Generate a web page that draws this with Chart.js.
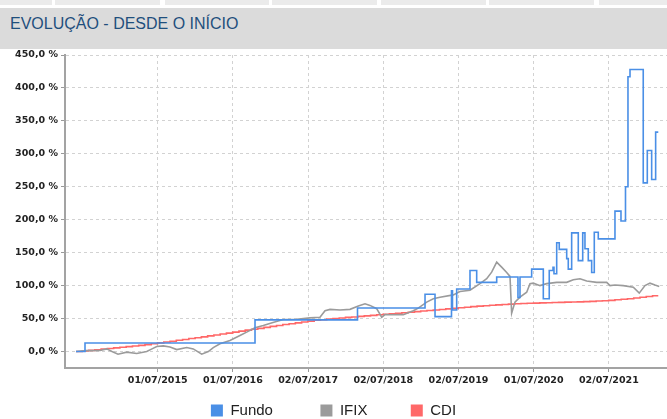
<!DOCTYPE html>
<html>
<head>
<meta charset="utf-8">
<script src="https://cdn.jsdelivr.net/npm/chart.js@4.4.0/dist/chart.umd.min.js"></script>
<style>
    html, body { margin: 0; padding: 0; width: 667px; height: 419px; overflow: hidden; background: #fff; }
    .tab { position: absolute; top: 0; height: 5px; background: #ebebeb; }
    #header { position: absolute; left: 0; top: 8px; width: 667px; height: 41px; background: #dbdbdb; }
    #title { position: absolute; left: 10px; top: 6px; line-height: 20px; font-size: 16px;
             font-family: "Liberation Sans", Arial, sans-serif; color: #1f4f7d; white-space: nowrap; }
    #chart_area { position: absolute; left: 0; top: 0; width: 667px; height: 428px; }
</style>
</head>
<body>
<div class="tab" style="left:0;width:52px"></div>
<div class="tab" style="left:55px;width:105px"></div>
<div class="tab" style="left:165px;width:104px"></div>
<div class="tab" style="left:272px;width:105px"></div>
<div class="tab" style="left:381px;width:105px"></div>
<div class="tab" style="left:489px;width:105px"></div>
<div class="tab" style="left:599px;width:68px"></div>
<div id="header"><div id="title">EVOLUÇÃO - DESDE O INÍCIO</div></div>
<div id="chart_area"><canvas id="evolucao" width="667" height="428"></canvas></div>

<script>
// Time is kept as decimal years (2015.5 = 01/07/2015)
var seriesNames = ["Fundo", "IFIX", "CDI"];
var seriesColors = ["#4a8fe6", "#9b9b9b", "#ff6868"];

// X axis tick dates and their labels
var tickYears = [2015.5, 2016.5, 2017.5, 2018.5, 2019.5, 2020.5, 2021.5];
var tickLabels = ["01/07/2015", "01/07/2016", "02/07/2017", "02/07/2018", "02/07/2019", "01/07/2020", "02/07/2021"];
var yTicks = [0, 50, 100, 150, 200, 250, 300, 350, 400, 450];

// Fundo: stepped series (each value holds until the next date)
var fundoT = [2014.414, 2014.533, 2016.794, 2018.157, 2019.055, 2019.188, 2019.407, 2019.420,
    2019.476, 2019.653, 2019.742, 2020.008, 2020.291, 2020.318, 2020.473, 2020.628, 2020.707,
    2020.757, 2020.770, 2020.806, 2020.840, 2020.939, 2020.960, 2021.005, 2021.093, 2021.152,
    2021.182, 2021.226, 2021.271, 2021.306, 2021.359, 2021.581, 2021.661, 2021.721, 2021.754,
    2021.781, 2021.957, 2022.011, 2022.069, 2022.122, 2022.157];
var fundoValues = [0, 13, 48, 66, 87, 53, 92, 63,
    95, 123, 105, 113, 82, 113, 125, 80, 123,
    128, 118, 165, 155, 141, 125, 180, 138, 180,
    156, 138, 120, 181, 171, 213, 198, 250, 417,
    428, 256, 305, 261, 333, 333];

// IFIX
var ifixT = [2014.414, 2014.547, 2014.733, 2014.822, 2014.892, 2014.972, 2015.088, 2015.221,
    2015.354, 2015.424, 2015.487, 2015.574, 2015.664, 2015.753, 2015.886, 2015.973, 2016.085,
    2016.173, 2016.239, 2016.328, 2016.461, 2016.594, 2016.683, 2016.794, 2016.904, 2017.033,
    2017.170, 2017.348, 2017.525, 2017.658, 2017.725, 2017.791, 2017.924, 2018.057, 2018.168,
    2018.257, 2018.323, 2018.412, 2018.479, 2018.523, 2018.589, 2018.766, 2018.899, 2018.965,
    2019.077, 2019.165, 2019.254, 2019.431, 2019.520, 2019.653, 2019.786, 2019.875, 2019.941,
    2020.008, 2020.074, 2020.141, 2020.185, 2020.207, 2020.251, 2020.318, 2020.407, 2020.451,
    2020.495, 2020.584, 2020.673, 2020.806, 2020.939, 2021.027, 2021.116, 2021.205, 2021.338,
    2021.471, 2021.515, 2021.581, 2021.692, 2021.825, 2021.904, 2021.980, 2022.047, 2022.113,
    2022.170];
var ifixValues = [0, 1.4, 1.5, 4, 0, -4, -1, -3,
    0, 4, 7.6, 8.6, 7, 3, 6, 4, -4,
    0, 6, 11.7, 16.7, 24.3, 29.4, 36, 39.5, 44,
    48.6, 49, 51, 52, 62, 64, 63, 64, 69,
    72.5, 70, 65, 52, 56, 55.8, 56, 62, 65.8,
    75, 80, 82.5, 86, 91, 93, 103, 110.5, 120.5,
    135.7, 128, 120, 114, 58, 75, 82.5, 90, 103,
    103.8, 100, 103, 105, 105, 109, 110.5, 107, 105,
    105, 100, 101, 100, 97.7, 88.6, 100, 103.8, 101,
    98.8];

// CDI: monthly accumulated values from jun/2014
var cdiStart = 2014.414;
var cdiValues = [0, 0.9, 1.8, 2.7, 3.7, 4.6, 5.6,
    6.5, 7.4, 8.4, 9.4, 10.5, 11.7, 13.1, 14.4, 15.7, 17.1, 18.3, 19.7,
    21.0, 22.3, 23.8, 25.1, 26.5, 28.0, 29.4, 31.0, 32.5, 33.9, 35.2, 36.7,
    38.2, 39.4, 41.0, 42.1, 43.5, 44.9, 46.1, 47.4, 48.3, 49.3, 50.1, 50.9,
    51.8, 52.5, 53.3, 54.1, 54.9, 55.7, 56.5, 57.4, 58.1, 58.9, 59.7, 60.5,
    61.4, 62.2, 63.0, 63.8, 64.7, 65.5, 66.4, 67.3, 68.1, 68.9, 69.5, 70.2,
    70.8, 71.4, 72.0, 72.5, 72.9, 73.2, 73.5, 73.8, 74.0, 74.3, 74.6, 74.9,
    75.1, 75.4, 75.7, 76.1, 76.6, 77.1, 77.7, 78.5, 79.3, 80.2, 81.2, 82.4,
    83.6, 84.6];
var cdiEnd = 2022.157;

var xMin = 2014.267;
var xMax = 2022.273;

/**
 * Joins a list of dates and a list of values into {x, y} points.
 */
function to_points(dates, values) {
    return dates.map(function (t, i) {
        return { x: t, y: values[i] };
    });
}

function cdi_points() {
    let points = cdiValues.map(function (v, i) {
        return { x: cdiStart + i / 12, y: v };
    });
    points.push({ x: cdiEnd, y: cdiValues[cdiValues.length - 1] });
    return points;
}

// Extra spaces after the legend texts to spread the items like the original
var legendGap = ["         ", "        ", ""];

var tickFont = { family: "DejaVu Sans", size: 9.5, weight: "bold" };

function make_dataset(i, points, stepped) {
    return {
        label: seriesNames[i],
        data: points,
        borderColor: seriesColors[i],
        backgroundColor: seriesColors[i],
        borderWidth: 1.6,
        pointRadius: 0,
        stepped: stepped,
        tension: 0,
        fill: false
    };
}

new Chart("evolucao", {
    type: "line",
    data: {
        datasets: [
            make_dataset(0, to_points(fundoT, fundoValues), true),
            make_dataset(1, to_points(ifixT, ifixValues), false),
            make_dataset(2, cdi_points(), true)
        ]
    },
    options: {
        responsive: false,
        animation: false,
        layout: { padding: { top: 55, left: 0, right: 0, bottom: 0 } },
        plugins: {
            tooltip: { enabled: false },
            legend: {
                position: "bottom",
                labels: {
                    boxWidth: 12,
                    boxHeight: 12,
                    padding: 10,
                    color: "#222",
                    font: { family: "Liberation Sans", size: 15 },
                    generateLabels: function (chart) {
                        let items = Chart.defaults.plugins.legend.labels.generateLabels(chart);
                        return items.map(function (item, i) {
                            item.text = item.text + legendGap[i];
                            item.lineWidth = 0;
                            return item;
                        });
                    }
                }
            }
        },
        scales: {
            x: {
                type: "linear",
                min: xMin,
                max: xMax,
                afterBuildTicks: function (scale) {
                    scale.ticks = tickYears.map(function (v) { return { value: v }; });
                },
                afterFit: function (scale) { scale.height = 25; },
                ticks: {
                    autoSkip: false,
                    maxRotation: 0,
                    padding: 3,
                    color: "#222",
                    font: tickFont,
                    callback: function (value, index) { return tickLabels[index]; }
                },
                grid: { color: "#d2d2d2", tickColor: "#999", tickLength: 4 },
                border: { color: "#a3a3a3", width: 2, dash: [3, 3] }
            },
            y: {
                min: -25,
                max: 450,
                afterBuildTicks: function (scale) {
                    scale.ticks = yTicks.map(function (v) { return { value: v }; });
                },
                afterFit: function (scale) { scale.width = 65; },
                ticks: {
                    padding: 3,
                    color: "#222",
                    font: tickFont,
                    callback: function (value) { return value.toFixed(1).replace(".", ",") + " %"; }
                },
                grid: { color: "#d2d2d2", tickColor: "#999", tickLength: 4 },
                border: { color: "#a3a3a3", width: 2, dash: [3, 3] }
            }
        }
    }
});
</script>
</body>
</html>
